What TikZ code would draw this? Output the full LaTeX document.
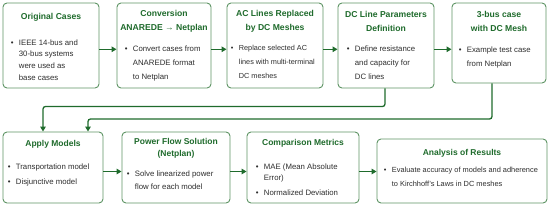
\documentclass[tikz,border=0pt]{standalone}
\usepackage{fontspec}
\setmainfont{Liberation Sans}
\usetikzlibrary{arrows.meta}
\definecolor{dgreen}{HTML}{1F6B2C}
\definecolor{bgreen}{HTML}{5E9464}
\definecolor{tgray}{HTML}{2E2E2E}
\newcommand{\bl}{\makebox[8pt][l]{\textbullet}}
\newcommand{\cn}{\hspace*{8pt}}
\tikzset{
 box/.style={draw=bgreen, line width=0.9pt, rounded corners=4pt, fill=white, inner sep=0pt},
 ttl/.style={font=\fontsize{8.6}{14}\selectfont\bfseries, text=dgreen, align=center, inner sep=0pt},
 ttlb/.style={font=\fontsize{8.5}{11.6}\selectfont\bfseries, text=dgreen, align=center, inner sep=0pt},
 body/.style={text=tgray, align=left, inner sep=0pt, anchor=north west},
 arr/.style={draw=dgreen, line width=1.3pt, -{Triangle[length=5pt,width=5.5pt]}},
}
\begin{document}
\begin{tikzpicture}[x=1pt,y=-1pt]
\useasboundingbox (0,0) rectangle (550,207);
% top row boxes
\node[box, minimum width=96pt, minimum height=85pt] (B1) at (51,45.5) {};
\node[box, minimum width=94pt, minimum height=85pt] (B2) at (164,45.5) {};
\node[box, minimum width=96pt, minimum height=85pt] (B3) at (275,45.5) {};
\node[box, minimum width=96pt, minimum height=85pt] (B4) at (386,45.5) {};
\node[box, minimum width=94pt, minimum height=80pt] (B5) at (499,43) {};
% bottom row boxes
\node[box, minimum width=100pt, minimum height=71pt] (B6) at (53,167.5) {};
\node[box, minimum width=108pt, minimum height=71pt] (B7) at (176,167.5) {};
\node[box, minimum width=112pt, minimum height=71pt] (B8) at (303,167.5) {};
\node[box, minimum width=170pt, minimum height=64pt] (B9) at (462,171) {};
% titles
\node[ttl] (T1) at (51,17) {Original Cases};
\node[ttl] (T2) at (164,21) {Conversion\\ANAREDE → Netplan};
\node[ttl] (T3) at (275,21) {AC Lines Replaced\\by DC Meshes};
\node[ttl] (T4) at (386,21) {DC Line Parameters\\Definition};
\node[ttl] (T5) at (499,21) {3-bus case\\with DC Mesh};
\node[ttlb] (T6) at (53,144) {Apply Models};
\node[ttlb] (T7) at (176,148.5) {Power Flow Solution\\(Netplan)};
\node[ttlb] (T8) at (303,143) {Comparison Metrics};
\node[ttlb] (T9) at (462,153) {Analysis of Results};
% bodies
\node[body, font=\fontsize{7.8}{11.7}\selectfont] (D1) at (10.7,39.2) {\bl IEEE 14-bus and\\\cn 30-bus systems\\\cn were used as\\\cn base cases};
\node[body, font=\fontsize{7.8}{14}\selectfont] (D2) at (124.7,45.2) {\bl Convert cases from\\\cn ANAREDE format\\\cn to Netplan};
\node[body, font=\fontsize{7.3}{14}\selectfont] (D3) at (230.7,45.2) {\bl Replace selected AC\\\cn lines with multi-terminal\\\cn DC meshes};
\node[body, font=\fontsize{7.8}{14}\selectfont] (D4) at (346.7,45.2) {\bl Define resistance\\\cn and capacity for\\\cn DC lines};
\node[body, font=\fontsize{7.8}{14}\selectfont] (D5) at (458.7,46.2) {\bl Example test case\\\cn from Netplan};
\node[body, font=\fontsize{7.8}{15}\selectfont] (D6) at (7.7,163.2) {\bl Transportation model\\\bl Disjunctive model};
\node[body, font=\fontsize{7.8}{13}\selectfont] (D7) at (126.7,170.2) {\bl Solve linearized power\\\cn flow for each model};
\node[body, font=\fontsize{7.8}{11.5}\selectfont] (D8) at (255.7,163.2) {\bl MAE (Mean Absolute\\\cn Error)\\[3.5pt]\bl Normalized Deviation};
\node[body, font=\fontsize{7.4}{14}\selectfont] (D9) at (383.7,167.2) {\bl Evaluate accuracy of models and adherence\\\cn to Kirchhoff’s Laws in DC meshes};
% connectors
\coordinate (ya) at (0,49.3);
\coordinate (yb) at (0,171.5);
\draw[arr] (B1.east |- ya) -- (B2.west |- ya);
\draw[arr] (B2.east |- ya) -- (B3.west |- ya);
\draw[arr] (B3.east |- ya) -- (B4.west |- ya);
\draw[arr] (B4.east |- ya) -- (B5.west |- ya);
\draw[arr] (B6.east |- yb) -- (B7.west |- yb);
\draw[arr] (B7.east |- yb) -- (B8.west |- yb);
\draw[arr] (B8.east |- yb) -- (B9.west |- yb);
\coordinate (c4) at (385,106.5);
\coordinate (c4a) at (43,106.5);
\coordinate (c5) at (492,119);
\coordinate (c5a) at (88,119);
\draw[arr, rounded corners=2.5pt] (B4.south -| c4) -- (c4) -- (c4a) -- (c4a |- B6.north);
\draw[arr, rounded corners=2.5pt] (B5.south -| c5) -- (c5) -- (c5a) -- (c5a |- B6.north);
\end{tikzpicture}
\end{document}
